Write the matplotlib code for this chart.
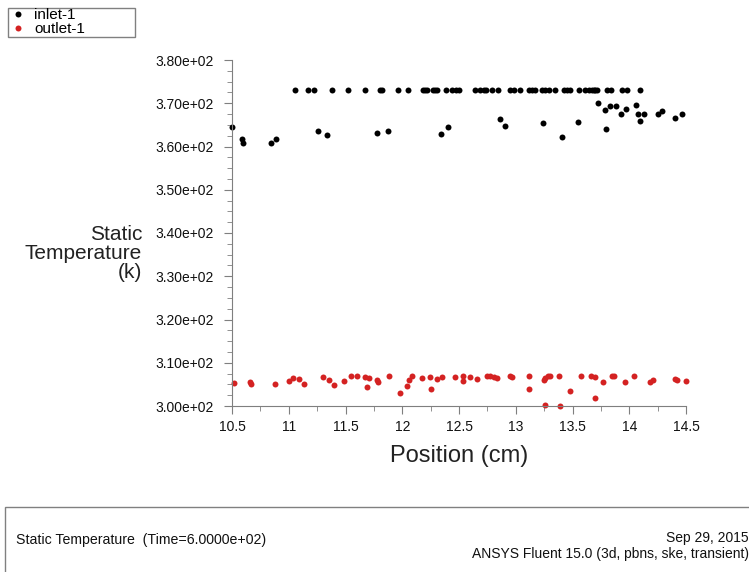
import numpy as np
import matplotlib
matplotlib.use("Agg")
import matplotlib.pyplot as plt
from matplotlib.patches import Rectangle
from matplotlib.ticker import MultipleLocator, FormatStrFormatter

plt.rcParams['font.family'] = ['Liberation Sans', 'DejaVu Sans']

# --- data (position in cm, temperature in K) ---
inlet_x = [11.058, 11.170, 11.223, 11.379, 11.526, 11.668, 11.803, 11.818, 11.962, 12.053,
           12.180, 12.200, 12.216, 12.274, 12.289, 12.309, 12.386, 12.442, 12.472, 12.504,
           12.642, 12.686, 12.716, 12.739, 12.790, 12.848, 12.951, 12.981, 13.034, 13.113,
           13.143, 13.172, 13.231, 13.261, 13.290, 13.349, 13.422, 13.452, 13.481, 13.555,
           13.614, 13.643, 13.673, 13.687, 13.702, 13.717, 13.806, 13.835, 13.938, 13.982,
           14.094,
           10.498, 10.590, 10.595, 10.846, 10.884, 11.258, 11.335, 11.774, 11.871, 12.339,
           12.406, 12.863, 12.907, 13.240, 13.408, 13.546, 13.723, 13.782, 13.797, 13.826,
           13.885, 13.929, 13.970, 14.062, 14.076, 14.091, 14.129, 14.256, 14.285, 14.403,
           14.468]
inlet_t = [373.0] * 51 + [
           364.4, 361.8, 360.8, 360.8, 361.8, 363.6, 362.7, 363.2, 363.6, 362.9,
           364.4, 366.3, 364.7, 365.4, 362.1, 365.6, 370.0, 368.5, 364.0, 369.4,
           369.4, 367.4, 368.7, 369.7, 367.6, 365.8, 367.4, 367.4, 368.2, 366.7,
           367.5]

outlet_x = [10.516, 10.661, 10.663, 10.882, 11.002, 11.037, 11.090, 11.134, 11.306, 11.355,
            11.403, 11.485, 11.547, 11.597, 11.670, 11.708, 11.691, 11.777, 11.783, 11.885,
            11.980, 12.044, 12.062, 12.086, 12.177, 12.247, 12.251, 12.309, 12.353, 12.466,
            12.534, 12.539, 12.598, 12.657, 12.746, 12.775, 12.804, 12.834, 12.951, 12.966,
            13.119, 13.119, 13.246, 13.261, 13.281, 13.299, 13.254, 13.384, 13.393, 13.481,
            13.579, 13.667, 13.702, 13.696, 13.770, 13.850, 13.870, 13.961, 14.041, 14.179,
            14.208, 14.403, 14.424, 14.497]
outlet_t = [305.4, 305.6, 305.1, 305.2, 305.8, 306.5, 306.2, 305.2, 306.8, 306.1,
            304.8, 305.8, 307.0, 306.9, 306.7, 306.5, 304.5, 306.0, 305.5, 306.9,
            302.9, 304.6, 306.0, 306.9, 306.4, 306.8, 303.9, 306.2, 306.6, 306.6,
            307.0, 305.8, 306.8, 306.2, 307.0, 306.9, 306.6, 306.4, 307.0, 306.8,
            307.0, 303.9, 306.0, 306.4, 306.9, 307.0, 300.2, 307.0, 300.1, 303.5,
            307.0, 307.0, 306.6, 301.9, 305.6, 307.0, 307.0, 305.5, 307.0, 305.6,
            306.0, 306.2, 306.0, 305.8]

W, H = 749, 572
fig = plt.figure(figsize=(W / 100, H / 100), dpi=100)
ax = fig.add_axes([232 / W, 1 - 406 / H, 454 / W, 346 / H])

p_in, = ax.plot(inlet_x, inlet_t, 'o', color='black', ms=4.3, mew=0, label='inlet-1', clip_on=False)
p_out, = ax.plot(outlet_x, outlet_t, 'o', color='#d42222', ms=4.3, mew=0, label='outlet-1', clip_on=False)

ax.set_xlim(10.5, 14.5)
ax.set_ylim(300, 380)
ax.xaxis.set_major_locator(MultipleLocator(0.5))
ax.xaxis.set_minor_locator(MultipleLocator(0.25))
ax.yaxis.set_major_locator(MultipleLocator(10))
ax.yaxis.set_minor_locator(MultipleLocator(2.5))
ax.xaxis.set_major_formatter(FormatStrFormatter('%g'))
ax.set_yticks(np.arange(300, 381, 10))
ax.set_yticklabels(['%.2fe+02' % (v / 100) for v in np.arange(300, 381, 10)])

for side in ['top', 'right']:
    ax.spines[side].set_visible(False)
for side in ['left', 'bottom']:
    ax.spines[side].set_color('#7f7f7f')
ax.tick_params(which='both', direction='out', color='#7f7f7f')
ax.tick_params(which='major', length=6, labelsize=10, labelcolor='#111111')
ax.tick_params(which='minor', length=3.5)
ax.tick_params(axis='y', which='major', pad=7)
ax.tick_params(axis='x', which='major', pad=4)

ax.set_xlabel('Position (cm)', fontsize=17, color='#222222', labelpad=8)
ax.set_ylabel('Static\nTemperature\n(k)', fontsize=15, color='#222222', rotation=0,
              ha='right', va='center', multialignment='right', linespacing=1.0)
ax.yaxis.set_label_coords(-0.198, 0.44)

# legend box
fig.patches.append(Rectangle((8 / W, 1 - 37 / H), 127 / W, 29 / H, transform=fig.transFigure,
                             fill=False, edgecolor='#808080', lw=1))
fig.legend(handles=[p_in, p_out], loc='upper left', bbox_to_anchor=(13 / W, 1 - 8 / H),
           frameon=False, fontsize=11, handlelength=0.6, handletextpad=0.8,
           labelspacing=0.0, borderpad=0, borderaxespad=0)

# footer box
fig.patches.append(Rectangle((5 / W, -0.01), 1, 1 - 507 / H + 0.01, transform=fig.transFigure,
                             fill=False, edgecolor='#808080', lw=1))
fig.text(16 / W, 1 - 540 / H, 'Static Temperature  (Time=6.0000e+02)', fontsize=10.2,
         ha='left', va='center', color='#111111')
fig.text(749 / W, 1 - 538 / H, 'Sep 29, 2015', fontsize=10, ha='right', va='center', color='#111111')
fig.text(749 / W, 1 - 554 / H, 'ANSYS Fluent 15.0 (3d, pbns, ske, transient)', fontsize=10,
         ha='right', va='center', color='#111111')

fig.savefig('out.png', dpi=100)
